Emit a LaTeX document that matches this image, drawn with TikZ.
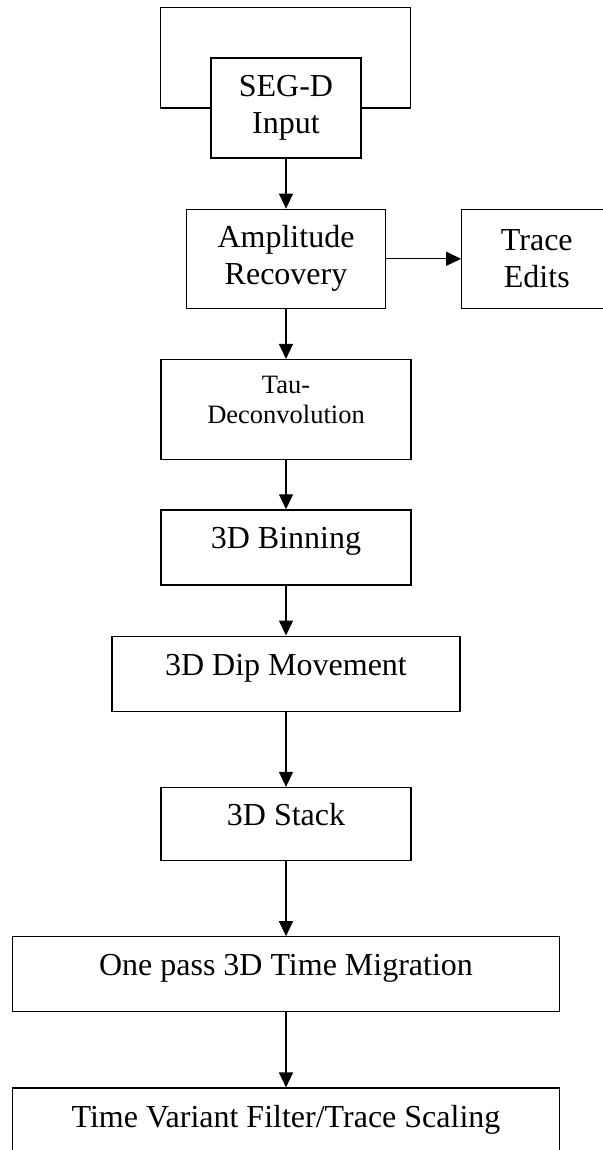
\documentclass[tikz,border=0pt]{standalone}
\usepackage{fontspec}
\setmainfont{Liberation Serif}
\usepackage{tikz}
\usetikzlibrary{
	positioning,
	arrows.meta
}

\tikzset{
	stage/.style={draw,line width=1.3pt,inner sep=0pt,align=center,minimum height=75pt},
	oneline/.style={stage,text height=22pt,text depth=19pt},
	flow/.style={line width=1.3pt,-{Triangle[length=15pt,width=14pt]}}
}

\begin{document}
\begin{tikzpicture}[x=1pt,y=1pt,font=\fontsize{32}{37}\selectfont]
		\useasboundingbox (0,0) rectangle (602,-1150);
		\draw
			node[stage,minimum width=150pt,minimum height=100pt] (seg) at (286,-108) {SEG-D\\Input}
			node[stage,minimum width=199pt,minimum height=99pt,below=50pt of seg] (amp) {Amplitude\\Recovery}
			node[stage,minimum width=150pt,minimum height=99pt,right=75pt of amp] (trace) {Trace\\Edits}
			node[stage,minimum width=250pt,minimum height=100pt,below=50pt of amp,text depth=20pt,
				font=\fontsize{26.5}{30.5}\selectfont] (tau) {Tau-\\Deconvolution}
			node[oneline,minimum width=250pt,below=49pt of tau] (bin) {3D Binning}
			node[oneline,minimum width=348pt,below=50pt of bin] (dip) {3D Dip Movement}
			node[oneline,minimum width=250pt,minimum height=73pt,below=75pt of dip] (stack) {3D Stack}
			node[oneline,minimum width=547pt,below=75pt of stack] (mig) {One pass 3D Time Migration}
			node[oneline,minimum width=547pt,below=75pt of mig] (filt) {Time Variant Filter/Trace Scaling}

			(seg)   edge[flow] (amp)
			(amp)   edge[flow] (trace)
			(amp)   edge[flow] (tau)
			(tau)   edge[flow] (bin)
			(bin)   edge[flow] (dip)
			(dip)   edge[flow] (stack)
			(stack) edge[flow] (mig)
			(mig)   edge[flow] (filt)
		;
		\draw[line width=1.3pt] (seg.west) -- ++(-50,0) |- ([shift={(49,50)}]seg.north east) |- (seg.east);
	\end{tikzpicture}
\end{document}
